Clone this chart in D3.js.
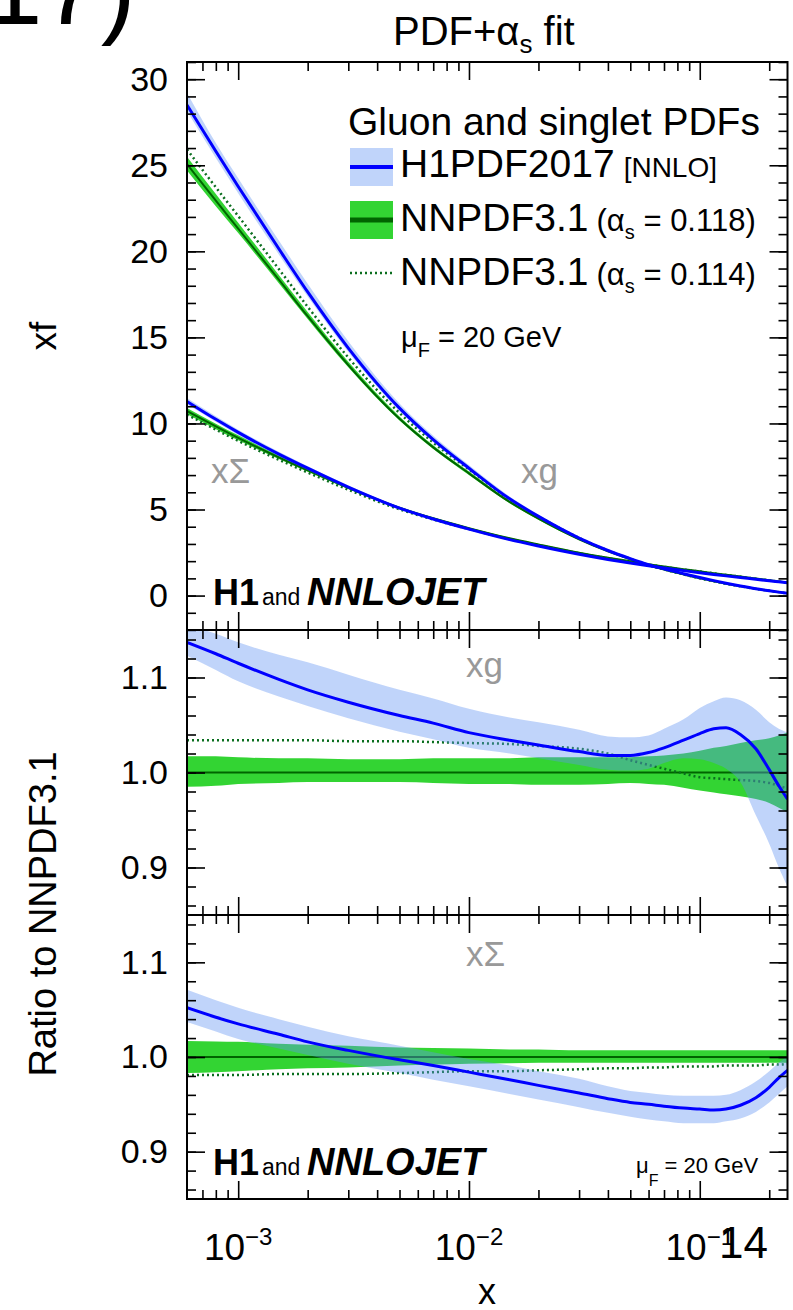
<!DOCTYPE html>
<html>
<head>
<meta charset="utf-8">
<script src="https://cdn.jsdelivr.net/npm/d3@7"></script>
<style>
  body { margin: 0; background: #fff; }
  svg { display: block; }
</style>
</head>
<body>
<svg id="chart" width="793" height="1310"></svg>
<script>
const FONT = "'Liberation Sans', Arial, Helvetica, sans-serif";

// x grid (momentum fraction)
const xs = [6e-4, 8e-4, 1e-3, 1.5e-3, 2e-3, 3e-3, 5e-3, 7e-3, 1e-2, 1.5e-2, 2e-2, 3e-2, 4e-2,
  5e-2, 6e-2, 7e-2, 8.5e-2, 0.1, 0.115, 0.13, 0.15, 0.175, 0.2, 0.22, 0.24];

// top panel: xg
const gluonH1   = [28.5, 25.81, 23.77, 20.15, 17.64, 14.38, 10.89, 9.06, 7.40, 5.62, 4.60, 3.34, 2.62, 2.15, 1.80, 1.55, 1.27, 1.05, 0.87, 0.72, 0.56, 0.40, 0.28, 0.20, 0.13];
const gluonH1Up = [29.2, 26.29, 24.24, 20.63, 18.11, 14.77, 11.16, 9.28, 7.58, 5.76, 4.71, 3.42, 2.67, 2.19, 1.83, 1.58, 1.30, 1.08, 0.89, 0.74, 0.58, 0.42, 0.29, 0.21, 0.14];
const gluonH1Lo = [28.15, 25.42, 23.37, 19.82, 17.37, 14.15, 10.71, 8.91, 7.28, 5.55, 4.54, 3.30, 2.58, 2.11, 1.77, 1.53, 1.25, 1.02, 0.84, 0.69, 0.53, 0.37, 0.26, 0.18, 0.118];
const gluonNN   = [25.07, 22.94, 21.32, 18.35, 16.23, 13.39, 10.27, 8.61, 7.10, 5.44, 4.47, 3.27, 2.57, 2.11, 1.76, 1.51, 1.23, 1.01, 0.83, 0.69, 0.54, 0.39, 0.28, 0.20, 0.134];
const gluonNNUp = [25.50, 23.33, 21.66, 18.63, 16.47, 13.58, 10.41, 8.74, 7.21, 5.52, 4.54, 3.32, 2.61, 2.14, 1.79, 1.54, 1.25, 1.03, 0.85, 0.71, 0.56, 0.40, 0.29, 0.21, 0.14];
const gluonNNLo = [24.69, 22.62, 21.06, 18.15, 16.07, 13.26, 10.17, 8.52, 7.01, 5.37, 4.41, 3.23, 2.54, 2.09, 1.74, 1.49, 1.21, 0.99, 0.81, 0.67, 0.53, 0.38, 0.27, 0.19, 0.128];
const gluonNN114 = [25.92, 23.72, 22.05, 18.97, 16.78, 13.83, 10.61, 8.89, 7.32, 5.60, 4.60, 3.35, 2.62, 2.14, 1.77, 1.52, 1.23, 1.00, 0.83, 0.69, 0.54, 0.39, 0.28, 0.20, 0.132];

// top panel: x Sigma
const sigH1   = [11.28, 10.24, 9.48, 8.22, 7.40, 6.30, 5.08, 4.45, 3.86, 3.25, 2.88, 2.40, 2.10, 1.89, 1.73, 1.60, 1.45, 1.33, 1.23, 1.145, 1.05, 0.95, 0.86, 0.80, 0.745];
const sigH1Up = [11.48, 10.42, 9.64, 8.35, 7.51, 6.40, 5.16, 4.51, 3.91, 3.30, 2.93, 2.43, 2.13, 1.92, 1.75, 1.62, 1.47, 1.35, 1.25, 1.16, 1.07, 0.964, 0.877, 0.815, 0.757];
const sigH1Lo = [11.12, 10.10, 9.33, 8.10, 7.29, 6.22, 5.01, 4.38, 3.80, 3.20, 2.84, 2.36, 2.07, 1.86, 1.70, 1.58, 1.42, 1.31, 1.21, 1.13, 1.04, 0.933, 0.847, 0.788, 0.733];
const sigNN   = [10.72, 9.83, 9.16, 8.03, 7.28, 6.26, 5.10, 4.49, 3.92, 3.33, 2.97, 2.49, 2.20, 1.99, 1.82, 1.69, 1.53, 1.41, 1.30, 1.21, 1.11, 0.99, 0.89, 0.82, 0.756];
const sigNNUp = [10.90, 9.99, 9.31, 8.14, 7.37, 6.34, 5.15, 4.53, 3.96, 3.36, 2.99, 2.51, 2.22, 2.00, 1.83, 1.70, 1.54, 1.42, 1.31, 1.22, 1.12, 1.00, 0.90, 0.83, 0.761];
const sigNNLo = [10.54, 9.67, 9.02, 7.93, 7.19, 6.19, 5.05, 4.45, 3.89, 3.31, 2.95, 2.48, 2.19, 1.98, 1.81, 1.68, 1.52, 1.40, 1.29, 1.20, 1.10, 0.984, 0.885, 0.815, 0.751];
const sigNN114 = [10.52, 9.64, 8.99, 7.89, 7.15, 6.15, 5.01, 4.42, 3.86, 3.28, 2.93, 2.46, 2.17, 1.97, 1.80, 1.67, 1.51, 1.40, 1.29, 1.20, 1.10, 0.98, 0.883, 0.813, 0.751];

// middle panel: xg ratio to NNPDF3.1
const rgH1   = [1.137, 1.125, 1.115, 1.098, 1.087, 1.074, 1.060, 1.052, 1.042, 1.034, 1.029, 1.022, 1.018, 1.018, 1.021, 1.026, 1.034, 1.041, 1.046, 1.047, 1.040, 1.025, 1.003, 0.986, 0.972];
const rgH1Up = [1.155, 1.146, 1.137, 1.124, 1.116, 1.103, 1.087, 1.078, 1.067, 1.058, 1.053, 1.045, 1.038, 1.037, 1.039, 1.046, 1.056, 1.068, 1.075, 1.079, 1.076, 1.066, 1.053, 1.046, 1.042];
const rgH1Lo = [1.123, 1.108, 1.096, 1.080, 1.070, 1.057, 1.043, 1.035, 1.026, 1.020, 1.015, 1.008, 1.003, 1.002, 1.004, 1.010, 1.015, 1.014, 1.010, 1.004, 0.990, 0.955, 0.925, 0.900, 0.880];
const rgNNUp = [1.017, 1.017, 1.016, 1.015, 1.015, 1.014, 1.014, 1.015, 1.015, 1.015, 1.016, 1.016, 1.016, 1.016, 1.017, 1.018, 1.020, 1.023, 1.026, 1.028, 1.031, 1.034, 1.036, 1.039, 1.042];
const rgNNLo = [0.985, 0.986, 0.988, 0.989, 0.990, 0.990, 0.990, 0.989, 0.988, 0.988, 0.987, 0.987, 0.988, 0.989, 0.988, 0.987, 0.984, 0.981, 0.979, 0.977, 0.975, 0.972, 0.968, 0.963, 0.958];
const rgNN114 = [1.034, 1.034, 1.034, 1.034, 1.034, 1.033, 1.033, 1.032, 1.031, 1.030, 1.028, 1.025, 1.020, 1.013, 1.008, 1.004, 0.999, 0.995, 0.994, 0.993, 0.992, 0.991, 0.989, 0.986, 0.983];

// bottom panel: x Sigma ratio to NNPDF3.1
const rsH1   = [1.052, 1.042, 1.035, 1.024, 1.016, 1.007, 0.997, 0.991, 0.984, 0.976, 0.970, 0.962, 0.956, 0.952, 0.950, 0.948, 0.946, 0.945, 0.944, 0.945, 0.949, 0.957, 0.968, 0.978, 0.986];
const rsH1Up = [1.071, 1.060, 1.052, 1.040, 1.032, 1.022, 1.012, 1.005, 0.998, 0.991, 0.985, 0.977, 0.969, 0.964, 0.962, 0.960, 0.959, 0.959, 0.959, 0.960, 0.965, 0.974, 0.985, 0.994, 1.001];
const rsH1Lo = [1.037, 1.027, 1.019, 1.009, 1.002, 0.993, 0.983, 0.976, 0.969, 0.961, 0.955, 0.947, 0.941, 0.937, 0.934, 0.932, 0.930, 0.930, 0.930, 0.932, 0.935, 0.942, 0.952, 0.961, 0.969];
const rsNNUp = [1.017, 1.0165, 1.016, 1.014, 1.013, 1.012, 1.010, 1.0095, 1.009, 1.008, 1.008, 1.007, 1.007, 1.007, 1.007, 1.007, 1.007, 1.007, 1.007, 1.007, 1.007, 1.007, 1.007, 1.007, 1.007];
const rsNNLo = [0.983, 0.984, 0.985, 0.987, 0.988, 0.989, 0.991, 0.992, 0.993, 0.9935, 0.994, 0.994, 0.994, 0.994, 0.994, 0.994, 0.994, 0.994, 0.994, 0.994, 0.994, 0.994, 0.994, 0.994, 0.994];
const rsNN114 = [0.981, 0.981, 0.981, 0.982, 0.982, 0.982, 0.983, 0.984, 0.985, 0.985, 0.986, 0.987, 0.988, 0.988, 0.989, 0.989, 0.990, 0.990, 0.990, 0.991, 0.991, 0.991, 0.992, 0.992, 0.993];

// ticks
const xMajor = [1e-3, 1e-2, 1e-1];
const xMajorExp = ["\u22123", "\u22122", "\u22121"];
const xMinor = [7e-4, 8e-4, 9e-4, 2e-3, 3e-3, 4e-3, 5e-3, 6e-3, 7e-3, 8e-3, 9e-3,
  2e-2, 3e-2, 4e-2, 5e-2, 6e-2, 7e-2, 8e-2, 9e-2, 2e-1];
const yTopMajor = [0, 5, 10, 15, 20, 25, 30];
const yTopMinor = d3.range(-2, 32);
const yRatioMajor = [0.9, 1.0, 1.1];
const yRatioMinor = [0.86, 0.88, 0.90, 0.92, 0.94, 0.96, 0.98, 1.00, 1.02, 1.04, 1.06, 1.08, 1.10, 1.12, 1.14];

const C_BAND_H1 = "rgba(98,147,242,0.4)";
const C_LINE_H1 = "#0000ff";
const C_BAND_NN = "#33d433";
const C_LINE_NN = "#006400";
const C_DOT_NN = "#0a6e1e";
const C_GREY = "#999999";

const X0 = 187, X1 = 787.5;
const x = d3.scaleLog().domain([6e-4, 0.24]).range([X0, X1]);
const yTop = d3.scaleLinear().domain([-2, 31]).range([630, 62]);
const yMid = d3.scaleLinear().domain([0.85, 1.15]).range([915, 630]);
const yBot = d3.scaleLinear().domain([0.85, 1.15]).range([1199, 915]);

const svg = d3.select("#chart");
const defs = svg.append("defs");

function richText(parent, px, py, parts, anchor = "start") {
  const t = parent.append("text")
    .attr("x", px).attr("y", py)
    .attr("text-anchor", anchor)
    .attr("font-family", FONT);
  parts.forEach(p => {
    const s = t.append("tspan").text(p.t).attr("font-size", p.size);
    if (p.x != null) s.attr("x", p.x);
    if (p.dx) s.attr("dx", p.dx);
    if (p.dy) s.attr("dy", p.dy);
    if (p.weight) s.attr("font-weight", p.weight);
    if (p.style) s.attr("font-style", p.style);
  });
  return t;
}

function band(g, y, lo, hi, fill) {
  g.append("path")
    .datum(xs)
    .attr("fill", fill)
    .attr("d", d3.area()
      .x(d => x(d))
      .y0((d, i) => y(lo[i]))
      .y1((d, i) => y(hi[i]))
      .curve(d3.curveMonotoneX));
}

function curve(g, y, vals, color, width, dash) {
  const p = g.append("path")
    .datum(xs)
    .attr("fill", "none")
    .attr("stroke", color)
    .attr("stroke-width", width)
    .attr("d", d3.line()
      .x(d => x(d))
      .y((d, i) => y(vals[i]))
      .curve(d3.curveMonotoneX));
  if (dash) p.attr("stroke-dasharray", dash);
}

// frame with inward ticks on all four sides
function frame(y, top, bottom, yMajor, yMinor, fmt) {
  const g = svg.append("g");
  const styleAxis = s => {
    s.select(".domain").remove();
    s.selectAll("line").attr("stroke", "#000").attr("stroke-width", 1.6);
    s.selectAll("text").attr("font-size", 34).attr("font-family", FONT).attr("fill", "#000");
  };
  g.append("g").attr("transform", `translate(${X0},0)`)
    .call(d3.axisLeft(y).tickValues(yMinor).tickSize(-9).tickFormat(""))
    .call(styleAxis);
  g.append("g").attr("transform", `translate(${X0},0)`)
    .call(d3.axisLeft(y).tickValues(yMajor).tickSize(-18).tickPadding(19).tickFormat(fmt))
    .call(styleAxis);
  g.append("g").attr("transform", `translate(${X1},0)`)
    .call(d3.axisRight(y).tickValues(yMinor).tickSize(-9).tickFormat(""))
    .call(styleAxis);
  g.append("g").attr("transform", `translate(${X1},0)`)
    .call(d3.axisRight(y).tickValues(yMajor).tickSize(-18).tickFormat(""))
    .call(styleAxis);
  g.append("g").attr("transform", `translate(0,${top})`)
    .call(d3.axisTop(x).tickValues(xMinor).tickSize(-9).tickFormat(""))
    .call(styleAxis);
  g.append("g").attr("transform", `translate(0,${top})`)
    .call(d3.axisTop(x).tickValues(xMajor).tickSize(-18).tickFormat(""))
    .call(styleAxis);
  g.append("g").attr("transform", `translate(0,${bottom})`)
    .call(d3.axisBottom(x).tickValues(xMinor).tickSize(-9).tickFormat(""))
    .call(styleAxis);
  g.append("g").attr("transform", `translate(0,${bottom})`)
    .call(d3.axisBottom(x).tickValues(xMajor).tickSize(-18).tickFormat(""))
    .call(styleAxis);
  g.append("rect")
    .attr("x", X0).attr("y", top)
    .attr("width", X1 - X0).attr("height", bottom - top)
    .attr("fill", "none").attr("stroke", "#000").attr("stroke-width", 2);
}

function body(id, top, bottom) {
  defs.append("clipPath").attr("id", id)
    .append("rect").attr("x", X0).attr("y", top)
    .attr("width", X1 - X0).attr("height", bottom - top);
  return svg.append("g").attr("clip-path", `url(#${id})`);
}

// ---- top panel
(function() {
  const g = body("clipTop", 62, 630);
  band(g, yTop, gluonNNLo, gluonNNUp, C_BAND_NN);
  band(g, yTop, sigNNLo, sigNNUp, C_BAND_NN);
  curve(g, yTop, gluonNN, C_LINE_NN, 2);
  curve(g, yTop, sigNN, C_LINE_NN, 2);
  curve(g, yTop, gluonNN114, C_DOT_NN, 2.5, "2,3");
  curve(g, yTop, sigNN114, C_DOT_NN, 2.5, "2,3");
  band(g, yTop, gluonH1Lo, gluonH1Up, C_BAND_H1);
  band(g, yTop, sigH1Lo, sigH1Up, C_BAND_H1);
  curve(g, yTop, gluonH1, C_LINE_H1, 3);
  curve(g, yTop, sigH1, C_LINE_H1, 3);
  frame(yTop, 62, 630, yTopMajor, yTopMinor, d3.format("d"));
})();

// ---- ratio panels
function ratioPanel(id, y, top, bottom, h1, h1Lo, h1Up, nnLo, nnUp, nn114) {
  const g = body(id, top, bottom);
  band(g, y, nnLo, nnUp, C_BAND_NN);
  g.append("line")
    .attr("x1", X0).attr("x2", X1)
    .attr("y1", y(1)).attr("y2", y(1))
    .attr("stroke", C_LINE_NN).attr("stroke-width", 2);
  curve(g, y, nn114, C_DOT_NN, 2.5, "2,3");
  band(g, y, h1Lo, h1Up, C_BAND_H1);
  curve(g, y, h1, C_LINE_H1, 3);
  frame(y, top, bottom, yRatioMajor, yRatioMinor, d3.format(".1f"));
}
ratioPanel("clipMid", yMid, 630, 915, rgH1, rgH1Lo, rgH1Up, rgNNLo, rgNNUp, rgNN114);
ratioPanel("clipBot", yBot, 915, 1199, rsH1, rsH1Lo, rsH1Up, rsNNLo, rsNNUp, rsNN114);

// ---- x tick labels
xMajor.forEach((v, i) => {
  richText(svg, x(v), 1260, [
    { t: "10", size: 37 },
    { t: xMajorExp[i], size: 24, dy: -15 }
  ], "middle");
});
svg.append("text").attr("x", 719).attr("y", 1258)
  .attr("font-family", FONT).attr("font-size", 44).text("14");

// axis titles
svg.append("text")
  .attr("x", 487).attr("y", 1304)
  .attr("text-anchor", "middle")
  .attr("font-family", FONT).attr("font-size", 36)
  .text("x");
svg.append("text")
  .attr("transform", "translate(56,336) rotate(-90)")
  .attr("text-anchor", "middle")
  .attr("font-family", FONT).attr("font-size", 37)
  .text("xf");
svg.append("text")
  .attr("transform", "translate(56,914) rotate(-90)")
  .attr("text-anchor", "middle")
  .attr("font-family", FONT).attr("font-size", 38)
  .text("Ratio to NNPDF3.1");

// title and page remnant
richText(svg, 393, 45, [
  { t: "PDF+\u03b1", size: 40 },
  { t: "s", size: 26, dy: 8 },
  { t: " fit", size: 40, dy: -8 }
]);
svg.append("text").attr("x", -51).attr("y", 24)
  .attr("font-family", FONT).attr("font-size", 105).text("(17)");

// legend
svg.append("text").attr("x", 348).attr("y", 135)
  .attr("font-family", FONT).attr("font-size", 39)
  .text("Gluon and singlet PDFs");

svg.append("rect").attr("x", 350).attr("y", 148).attr("width", 43).attr("height", 38)
  .attr("fill", C_BAND_H1);
svg.append("line").attr("x1", 350).attr("x2", 393).attr("y1", 167).attr("y2", 167)
  .attr("stroke", C_LINE_H1).attr("stroke-width", 4);
richText(svg, 400, 177, [
  { t: "H1PDF2017", size: 39 },
  { t: "[NNLO]", size: 28, dx: 9 }
]);

svg.append("rect").attr("x", 350).attr("y", 201).attr("width", 43).attr("height", 38)
  .attr("fill", C_BAND_NN);
svg.append("line").attr("x1", 350).attr("x2", 393).attr("y1", 220).attr("y2", 220)
  .attr("stroke", C_LINE_NN).attr("stroke-width", 5);
richText(svg, 400, 231, [
  { t: "NNPDF3.1", size: 39 },
  { t: "(\u03b1", size: 31, dx: 8 },
  { t: "s", size: 20, dy: 8 },
  { t: " = 0.118)", size: 31, dy: -8 }
]);

svg.append("line").attr("x1", 350).attr("x2", 393).attr("y1", 273).attr("y2", 273)
  .attr("stroke", C_DOT_NN).attr("stroke-width", 2.5).attr("stroke-dasharray", "2,3");
richText(svg, 400, 285, [
  { t: "NNPDF3.1", size: 39 },
  { t: "(\u03b1", size: 31, dx: 8 },
  { t: "s", size: 20, dy: 8 },
  { t: " = 0.114)", size: 31, dy: -8 }
]);

richText(svg, 401, 347, [
  { t: "\u03bc", size: 29 },
  { t: "F", size: 20, dy: 10 },
  { t: " = 20 GeV", size: 29, dy: -10 }
]);
richText(svg, 636, 1173, [
  { t: "\u03bc", size: 22 },
  { t: "F", size: 16, dy: 13 },
  { t: " = 20 GeV", size: 22, dy: -13 }
]);

// curve labels
[[211, 483, "x\u03a3"], [521, 483, "xg"], [466, 677, "xg"], [466, 966, "x\u03a3"]].forEach(d => {
  svg.append("text").attr("x", d[0]).attr("y", d[1])
    .attr("font-family", FONT).attr("font-size", 35).attr("fill", C_GREY)
    .text(d[2]);
});

// H1 and NNLOJET
[605, 1175].forEach(by => {
  richText(svg, 213, by, [
    { t: "H1", size: 36, weight: "bold" },
    { t: "and", size: 23, x: 262 },
    { t: "NNLOJET", size: 38, weight: "bold", style: "italic", x: 307 }
  ]);
});
</script>
</body>
</html>
